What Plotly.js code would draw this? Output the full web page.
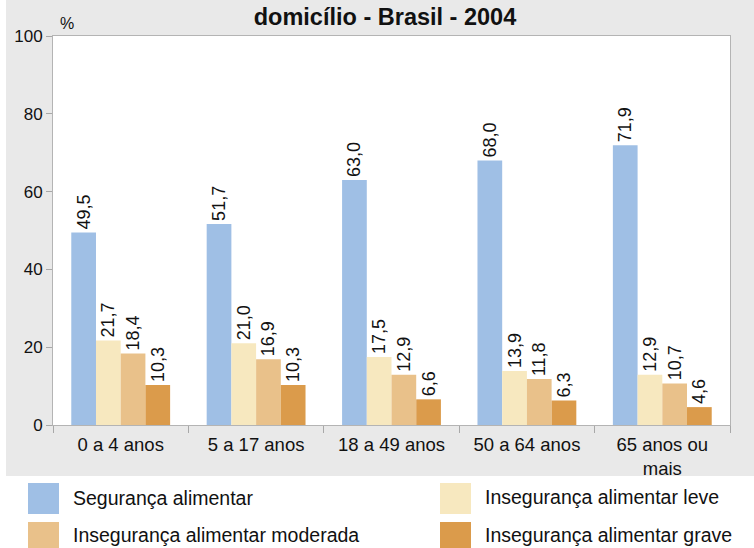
<!DOCTYPE html>
<html>
<head>
<meta charset="utf-8">
<script src="https://cdn.plot.ly/plotly-3.0.1.min.js"></script>
<style>html,body{margin:0;padding:0;background:#fff;}#chart{width:754px;height:548px;}</style>
</head>
<body>
<div id="chart"></div>
<script>
// ---- data ----
const categories = ["0 a 4 anos", "5 a 17 anos", "18 a 49 anos", "50 a 64 anos", "65 anos ou<br>mais"];
const seriesNames = ["Segurança alimentar", "Insegurança alimentar leve", "Insegurança alimentar moderada", "Insegurança alimentar grave"];
const seguranca = [49.5, 51.7, 63.0, 68.0, 71.9];
const insegLeve = [21.7, 21.0, 17.5, 13.9, 12.9];
const insegModerada = [18.4, 16.9, 12.9, 11.8, 10.7];
const insegGrave = [10.3, 10.3, 6.6, 6.3, 4.6];
const yTicks = [0, 20, 40, 60, 80, 100];
const titleText = "domicílio - Brasil - 2004";
const yUnit = "%";

const colors = ["#9fbfe5", "#f7e8bf", "#e9c18a", "#db9b4b"];
const allValues = [seguranca, insegLeve, insegModerada, insegGrave];
const FONT = "'Liberation Sans', Arial, Helvetica, sans-serif";

// plot area in pixels
const L = 53, R = 730, T = 36, B = 425;
const W = 754, H = 548;
const px2x = p => (p - L) / (R - L);
const py2y = p => (B - p) / (B - T);

const fmt = v => v.toFixed(1).replace('.', ',');

const traces = allValues.map((vals, i) => ({
  type: 'bar',
  name: seriesNames[i],
  x: categories,
  y: vals,
  marker: {color: colors[i], line: {width: 0}},
  text: vals.map(fmt),
  textposition: 'outside',
  textangle: -90,
  textfont: {family: FONT, size: 18, color: '#111'},
  cliponaxis: false,
  constraintext: 'none',
  hoverinfo: 'skip',
  showlegend: false
}));

const shapes = [
  // white strip on left
  {type: 'rect', xref: 'paper', yref: 'paper', x0: px2x(0), x1: px2x(6), y0: py2y(476), y1: py2y(0),
   fillcolor: '#ffffff', line: {width: 0}, layer: 'below'},
  // white legend area
  {type: 'rect', xref: 'paper', yref: 'paper', x0: px2x(0), x1: px2x(W), y0: py2y(H), y1: py2y(476),
   fillcolor: '#ffffff', line: {width: 0}, layer: 'below'}
];
const annotations = [
  {text: yUnit, xref: 'paper', yref: 'paper', x: px2x(67), y: py2y(23), showarrow: false,
   xanchor: 'center', yanchor: 'middle', font: {family: FONT, size: 16, color: '#111'}}
];

// manual legend (2 columns)
const legPos = [
  {sx: 28, tx: 71, cy: 498},
  {sx: 440, tx: 483, cy: 497},
  {sx: 28, tx: 71, cy: 535},
  {sx: 440, tx: 483, cy: 535}
];
const legRows = [[483, 514], [483, 514], [522, 553], [522, 553]];
seriesNames.forEach((nm, i) => {
  const p = legPos[i];
  shapes.push({type: 'rect', xref: 'paper', yref: 'paper',
    x0: px2x(p.sx), x1: px2x(p.sx + 31), y0: py2y(legRows[i][1]), y1: py2y(legRows[i][0]),
    fillcolor: colors[i], line: {width: 0}});
  annotations.push({text: nm, xref: 'paper', yref: 'paper', x: px2x(p.tx), y: py2y(p.cy),
    showarrow: false, xanchor: 'left', yanchor: 'middle',
    font: {family: FONT, size: 19.5, color: '#111'}});
});

const layout = {
  width: W, height: H,
  margin: {l: L, r: W - R, t: T, b: H - B, pad: 0},
  paper_bgcolor: '#e9e9e9',
  plot_bgcolor: '#ffffff',
  title: {text: '<b>' + titleText + '</b>', font: {family: FONT, size: 23.5, color: '#111'},
          xref: 'container', yref: 'container', x: 385 / W, y: 1 - 17 / H, xanchor: 'center', yanchor: 'middle'},
  barmode: 'group',
  bargap: 0.27,
  bargroupgap: 0,
  showlegend: false,
  xaxis: {
    type: 'category',
    showgrid: false, zeroline: false,
    showline: true, linecolor: '#b4b4b4', linewidth: 1, mirror: true,
    ticks: 'outside', tickson: 'boundaries', ticklen: 7, tickcolor: '#a8a8a8',
    ticklabelstandoff: 3,
    tickfont: {family: FONT, size: 18.5, color: '#111'}
  },
  yaxis: {
    range: [0, 100], tickvals: yTicks,
    showgrid: false, zeroline: false,
    showline: true, linecolor: '#b4b4b4', linewidth: 1, mirror: true,
    ticks: 'outside', ticklen: 6, tickcolor: '#a8a8a8',
    tickfont: {family: FONT, size: 17, color: '#111'}
  },
  shapes: shapes,
  annotations: annotations,
  font: {family: FONT}
};

Plotly.newPlot('chart', traces, layout, {displayModeBar: false, staticPlot: true});
</script>
</body>
</html>
